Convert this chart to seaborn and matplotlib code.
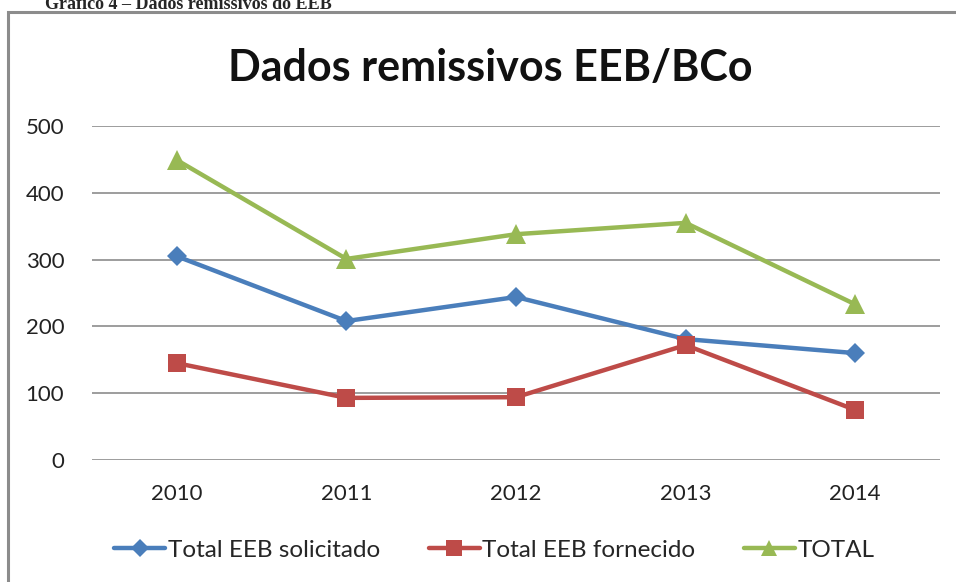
import matplotlib
matplotlib.use("Agg")
import matplotlib.pyplot as plt
import seaborn as sns
import pandas as pd
from matplotlib.lines import Line2D
from matplotlib.patches import Rectangle

# data
anos = [2010, 2011, 2012, 2013, 2014]
solicitado = [305, 208, 244, 181, 160]
fornecido = [145, 93, 94, 172, 75]
total = [449, 301, 338, 355, 233]

series_names = ["Total EEB solicitado", "Total EEB fornecido", "TOTAL"]
series_values = [solicitado, fornecido, total]
colors = ["#4A7EBB", "#BE4B48", "#98B954"]
markers = ["D", "s", "^"]
msizes = [10.5, 13, 14]

df = pd.DataFrame(
    {
        "ano": anos * 3,
        "valor": solicitado + fornecido + total,
        "serie": [n for n in series_names for _ in anos],
    }
)

sns.set_style("white")
plt.rcParams["font.family"] = ["Lato", "DejaVu Sans"]

fig = plt.figure(figsize=(9.56, 5.82), dpi=100)
ax = fig.add_axes([92 / 956, 122 / 582, 848 / 956, 334 / 582])

for name, color, mk, ms in zip(series_names, colors, markers, msizes):
    sub = df[df["serie"] == name]
    sns.lineplot(
        data=sub, x="ano", y="valor", ax=ax, color=color, linewidth=3.2,
        marker=mk, markersize=ms, markeredgewidth=0, legend=False, clip_on=False,
    )

ax.set_xlim(anos[0] - 0.5, anos[-1] + 0.5)
ax.set_ylim(0, 500)
ax.set_xticks(anos)
ax.set_xticklabels([str(a) for a in anos])
ax.set_yticks(range(0, 501, 100))
ax.yaxis.grid(True, color="#8C8C8C", linewidth=1.2)
ax.set_axisbelow(True)
for s in ax.spines.values():
    s.set_visible(False)
ax.tick_params(axis="both", length=0, labelsize=16, colors="#222222")
ax.tick_params(axis="x", pad=17)
ax.tick_params(axis="y", pad=20)
ax.set_xlabel("")
ax.set_ylabel("")

fig.text(0.513, 1 - 68 / 582, "Dados remissivos EEB/BCo", ha="center",
         va="center", fontsize=31, fontweight="bold", color="#111111")

handles = [
    Line2D([0], [0], color=c, marker=m, markersize=s * 0.85, linewidth=3.2,
           markeredgewidth=0)
    for c, m, s in zip(colors, markers, msizes)
]
fig.legend(handles, series_names, loc="center", bbox_to_anchor=(0.517, 1 - 550 / 582),
           ncol=3, frameon=False, fontsize=17.5, handlelength=2.1, handletextpad=0.1,
           columnspacing=2.0)

# outer chart frame (cut by image edge) and caption above it
fig.patches.append(Rectangle((8 / 956, -0.05), 1.0, 1 - 12 / 582 + 0.05,
                             transform=fig.transFigure, fill=False,
                             edgecolor="#8C8C8C", linewidth=2.2))
fig.text(45 / 956, 1 - 9 / 582, "Gráfico 4 – Dados remissivos do EEB",
         ha="left", va="baseline", fontsize=13, fontweight="bold",
         family="Liberation Serif")

fig.savefig("out.png", dpi=100)
